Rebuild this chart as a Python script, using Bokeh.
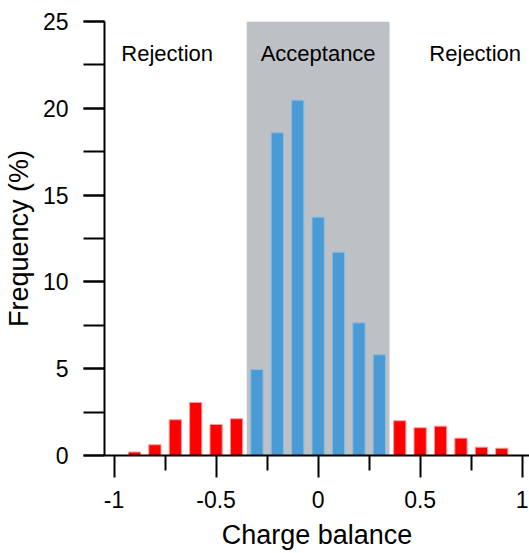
from bokeh.plotting import figure
from bokeh.models import Range1d, FixedTicker, SingleIntervalTicker, ColumnDataSource, Label, BoxAnnotation
from bokeh.embed import file_html
from bokeh.resources import INLINE

# Data
charge_balance = [-0.9, -0.8, -0.7, -0.6, -0.5, -0.4, -0.3, -0.2, -0.1, 0.0,
                  0.1, 0.2, 0.3, 0.4, 0.5, 0.6, 0.7, 0.8, 0.9]
frequency = [0.2, 0.62, 2.06, 3.06, 1.79, 2.12, 4.95, 18.59, 20.47, 13.73,
             11.71, 7.64, 5.80, 2.0, 1.6, 1.69, 1.0, 0.48, 0.42]
acceptance_limit = 0.35
x_ticks = [-1, -0.5, 0, 0.5, 1]
x_tick_labels = ["-1", "-0.5", "0", "0.5", "1"]
x_minor_ticks = [-0.75, -0.25, 0.25, 0.75]
region_labels = ["Rejection", "Acceptance", "Rejection"]

FONT = "Liberation Sans"
RED = "#FF0000"
BLUE = "#4A9BD5"
GRAY = "#BDC1C5"

colors = [BLUE if abs(x) < acceptance_limit else RED for x in charge_balance]
edges = ["#86BCE6" if abs(x) < acceptance_limit else "#FF9A9A" for x in charge_balance]
src = ColumnDataSource(dict(x=charge_balance, top=frequency, color=colors, edge=edges))

p = figure(width=529, height=553, output_backend="svg", toolbar_location=None,
           x_range=Range1d(-1.047, 1.036), y_range=Range1d(0, 25),
           min_border_left=104, min_border_right=0, min_border_top=21, min_border_bottom=98)
p.outline_line_color = None
p.xgrid.visible = False
p.ygrid.visible = False
p.background_fill_color = "white"
p.border_fill_color = "white"

p.add_layout(BoxAnnotation(left=-acceptance_limit, right=acceptance_limit, bottom=0, top=25,
                           fill_color=GRAY, fill_alpha=1.0, line_color=None, level="underlay"))

p.vbar(x="x", top="top", width=0.06, bottom=0, source=src,
       fill_color="color", line_color="edge", line_width=1)

# x axis
xa = p.xaxis[0]
xa.ticker = FixedTicker(ticks=x_ticks, minor_ticks=x_minor_ticks)
xa.major_label_overrides = {t: l for t, l in zip(x_ticks, x_tick_labels)}
xa.axis_label = "Charge balance"
# y axis
ya = p.yaxis[0]
ya.ticker = SingleIntervalTicker(interval=5, num_minor_ticks=2)
ya.axis_label = "Frequency (%)"

for ax in (xa, ya):
    ax.axis_line_color = "black"
    ax.axis_line_width = 2
    ax.major_tick_line_color = "black"
    ax.major_tick_line_width = 2
    ax.minor_tick_line_color = "black"
    ax.minor_tick_line_width = 2
    ax.major_tick_in = 0
    ax.minor_tick_in = 0
    ax.major_label_text_font = FONT
    ax.major_label_text_font_size = "23px"
    ax.major_label_text_color = "black"
    ax.axis_label_text_font = FONT
    ax.axis_label_text_font_size = "27px"
    ax.axis_label_text_font_style = "normal"
    ax.axis_label_text_color = "black"

xa.major_tick_out = 22
xa.minor_tick_out = 15
xa.major_label_standoff = 13
xa.axis_label_standoff = 9
ya.major_tick_out = 21
ya.minor_tick_out = 21
ya.major_label_standoff = 15
ya.axis_label_standoff = 6

label_x = [-0.74, 0.0, 0.77]
for lx, txt in zip(label_x, region_labels):
    p.add_layout(Label(x=lx, y=23.16, text=txt, text_align="center", text_baseline="middle",
                       text_font=FONT, text_font_size="22px", text_color="black"))

open("out.html", "w").write(file_html(p, INLINE))
